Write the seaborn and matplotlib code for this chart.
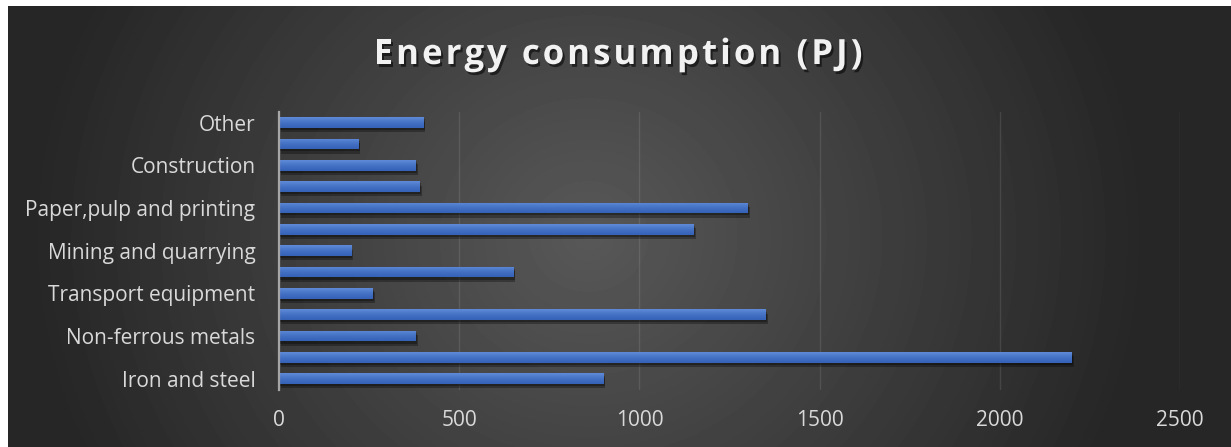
import numpy as np
import pandas as pd
import matplotlib
matplotlib.use("Agg")
import matplotlib.pyplot as plt
import matplotlib.patheffects as pe
from matplotlib.colors import LinearSegmentedColormap
from matplotlib.font_manager import FontProperties
import seaborn as sns

# Final energy consumption by industry sector, listed bottom to top
sectors = [
    "Iron and steel",
    "Chemical and petrochemical",
    "Non-ferrous metals",
    "Non-metallic minerals",
    "Transport equipment",
    "Machinery",
    "Mining and quarrying",
    "Food and tobacco",
    "Paper,pulp and printing",
    "Wood and wood products",
    "Construction",
    "Textile and leather",
    "Other",
]
energy_pj = [900, 2200, 380, 1350, 260, 650, 200, 1150, 1300, 390, 380, 220, 400]
x_ticks = [0, 500, 1000, 1500, 2000, 2500]
title = "Energy consumption (PJ)"

df = pd.DataFrame({"sector": sectors, "energy": energy_pj})

W, H = 1231, 447
sns.set_style("white")
fig = plt.figure(figsize=(W / 100, H / 100), dpi=100, facecolor="white")

# Dark panel with a soft radial light in the middle
bg = fig.add_axes([8 / W, 0, 1 - 8 / W, 1 - 6 / H], zorder=0)
pw, ph = W - 8, H - 6
yy, xx = np.mgrid[0:ph, 0:pw]
d = np.clip(np.sqrt(((xx - 580) / 560) ** 2 + ((yy - 230) / 520) ** 2), 0, 1)
shade = (0x58 + (0x26 - 0x58) * d) / 255
bg.imshow(shade, cmap="gray", vmin=0, vmax=1, aspect="auto", interpolation="bilinear")
bg.axis("off")

ax = fig.add_axes([279 / W, (H - 389.5) / H, 901 / W, 277.5 / H], zorder=1)
ax.set_facecolor("none")

order = sectors[::-1]
sns.barplot(data=df, x="energy", y="sector", order=order, orient="h",
            color="#4472C4", saturation=1, width=0.5, linewidth=0, ax=ax)

# Vertical shading and soft drop shadow on every bar
grad = np.linspace(0, 1, 32).reshape(-1, 1)
bar_cmap = LinearSegmentedColormap.from_list("bar", ["#5f8ad8", "#4472C4", "#3562b6"])
for p in list(ax.patches):
    x0, y0, w, h = p.get_x(), p.get_y(), p.get_width(), p.get_height()
    p.set_path_effects([pe.SimplePatchShadow(offset=(1.5, -3), shadow_rgbFace="black", alpha=0.3),
                        pe.SimplePatchShadow(offset=(1, -1.5), shadow_rgbFace="black", alpha=0.3),
                        pe.Normal()])
    im = ax.imshow(grad, cmap=bar_cmap, extent=(x0, x0 + w, y0 + h, y0), aspect="auto",
                   interpolation="bilinear", zorder=p.get_zorder() + 0.1)
    im.set_clip_path(p)

ax.set_xlim(0, 2500)
ax.set_ylim(len(order) - 0.5, -0.5)
ax.set_xticks(x_ticks)
ax.set_xticklabels([str(t) for t in x_ticks])
ax.set_yticks(range(len(order)))
ax.set_yticklabels(order)
for i, lbl in enumerate(ax.get_yticklabels()):
    if i % 2 == 1:
        lbl.set_visible(False)

ax.set_xlabel("")
ax.set_ylabel("")
for s in ["top", "right", "bottom"]:
    ax.spines[s].set_visible(False)
ax.spines["left"].set_color("#a6a6a6")
ax.spines["left"].set_linewidth(1.6)
ax.spines["left"].set_zorder(5)

ax.tick_params(axis="both", length=0, labelcolor="#d9d9d9", labelsize=15)
ax.tick_params(axis="y", pad=17)
ax.tick_params(axis="x", pad=15)
ax.xaxis.grid(True)
ax.yaxis.grid(False)
ax.tick_params(axis="x", grid_color="white", grid_alpha=0.1, grid_linewidth=1)
ax.set_axisbelow(True)
for lbl in ax.get_xticklabels() + ax.get_yticklabels():
    lbl.set_fontfamily("Open Sans")

# Letter-spaced title, laid out one character at a time
tfont = FontProperties(family="Open Sans", weight="bold", size=25)
renderer = fig.canvas.get_renderer()


def text_width(s):
    if not s:
        return 0.0
    w, _, _ = renderer.get_text_width_height_descent(s.replace(" ", "\u00a0"), tfont, ismath=False)
    return w


natural = text_width(title)
target = 489.0
gap = (target - natural) / (len(title) - 1)
left = 618 - target / 2
shadow = [pe.SimplePatchShadow(offset=(1.5, -2), shadow_rgbFace="black", alpha=0.55), pe.Normal()]
for i, ch in enumerate(title):
    if ch == " ":
        continue
    xpix = left + text_width(title[:i]) + i * gap
    fig.text(xpix / W, 1 - 64 / H, ch, ha="left", va="baseline", fontproperties=tfont,
             color="#f2f2f2", path_effects=shadow)

fig.savefig("out.png", dpi=100, facecolor=fig.get_facecolor())
